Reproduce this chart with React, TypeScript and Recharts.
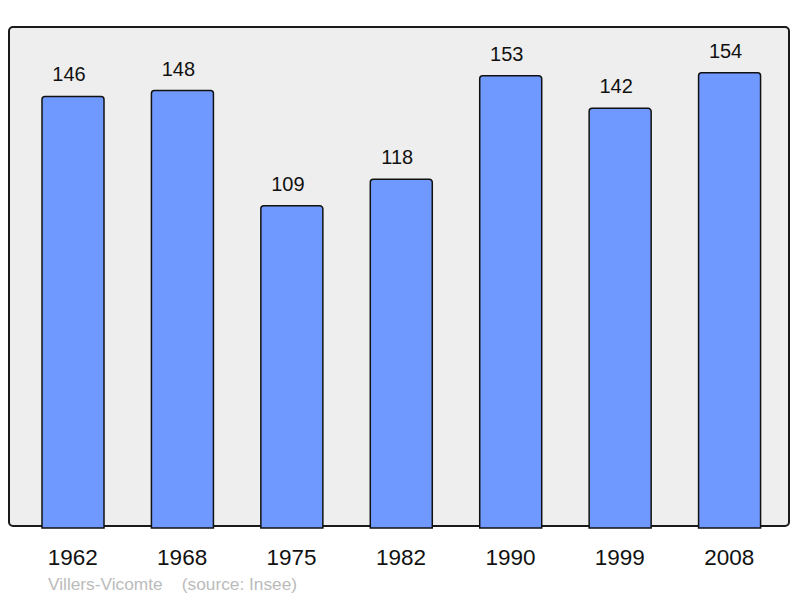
import React from "react";
import { BarChart, Bar, XAxis, YAxis, LabelList } from "recharts";

const years = ["1962", "1968", "1975", "1982", "1990", "1999", "2008"];
const population = [146, 148, 109, 118, 153, 142, 154];
const footer = "Villers-Vicomte    (source: Insee)";

const data = years.map((y, i) => ({ year: y, value: population[i] }));

const W = 800;
const H = 598;
const M = { top: 27, right: 9, bottom: 30, left: 9 };
const X_AXIS_H = 40;
const FONT = "'Liberation Sans', Arial, sans-serif";

export default function App() {
  return (
    <div
      style={{
        position: "absolute",
        left: 0,
        top: 0,
        width: W,
        height: H,
        background: "#ffffff",
        fontFamily: FONT,
      }}
    >
      <div
        style={{
          position: "absolute",
          left: M.left - 1,
          top: M.top - 1,
          width: W - M.left - M.right,
          height: H - M.top - M.bottom - X_AXIS_H,
          background: "#eeeeee",
          border: "2px solid #1a1a1a",
          borderRadius: 5,
          boxSizing: "border-box",
        }}
      />
      <div style={{ position: "absolute", left: 0, top: 0 }}>
        <BarChart width={W} height={H} data={data} margin={M} barSize={62}>
          <XAxis
            dataKey="year"
            axisLine={false}
            tickLine={false}
            tickSize={0}
            tickMargin={21}
            height={X_AXIS_H}
            padding={{ left: 9, right: 7 }}
            interval={0}
            tick={{ fill: "#111111", fontSize: 22.5, fontFamily: FONT }}
          />
          <YAxis hide domain={[0, 169.5]} />
          <Bar
            dataKey="value"
            fill="#7099ff"
            stroke="#111111"
            strokeWidth={1.5}
            radius={[3, 3, 0, 0]}
            isAnimationActive={false}
          >
            <LabelList
              dataKey="value"
              position="top"
              offset={15}
              dx={-4}
              fill="#111111"
              fontSize={20}
              fontFamily={FONT}
            />
          </Bar>
        </BarChart>
      </div>
      <div
        style={{
          position: "absolute",
          left: 48,
          top: 574,
          fontSize: 17.3,
          color: "#bbbbbb",
          whiteSpace: "pre",
          fontFamily: FONT,
        }}
      >
        {footer}
      </div>
    </div>
  );
}
